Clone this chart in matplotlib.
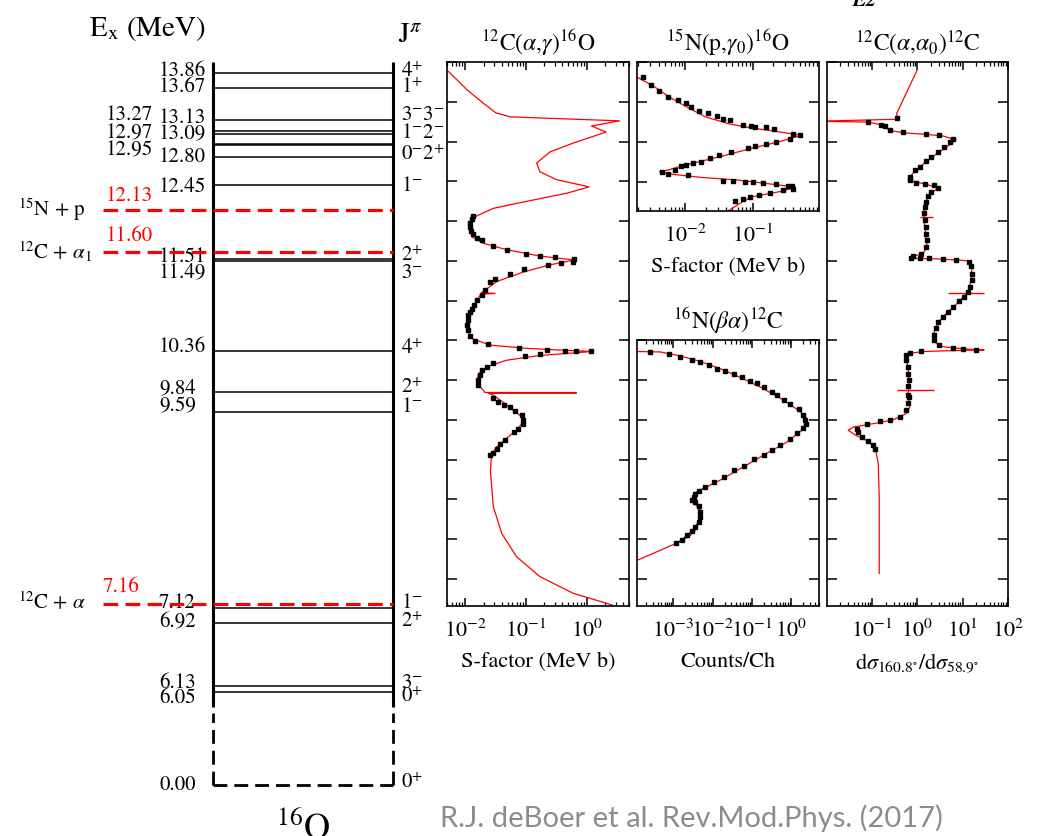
import numpy as np
import matplotlib
matplotlib.use('Agg')
import matplotlib.pyplot as plt
from matplotlib.ticker import MultipleLocator, LogLocator, NullFormatter

plt.rcParams['font.family'] = 'STIXGeneral'
plt.rcParams['mathtext.fontset'] = 'stix'

# --- 16O level scheme -------------------------------------------------------
level_E = [13.86, 13.67, 13.27, 13.13, 13.09, 12.97, 12.95, 12.80, 12.45,
           11.51, 11.49, 10.36, 9.84, 9.59, 7.12, 6.92, 6.13, 6.05]
ground_E = 0.00
jpi_labels = ['4$^{+}$', '1$^{+}$', '3$^{-}$3$^{-}$', '1$^{-}$2$^{-}$', '0$^{-}$2$^{+}$',
              '1$^{-}$', '2$^{+}$', '3$^{-}$', '4$^{+}$', '2$^{+}$', '1$^{-}$',
              '1$^{-}$', '2$^{+}$', '3$^{-}$', '0$^{+}$', '0$^{+}$']
thr_E = [12.13, 11.60, 7.16]
thr_names = [r'$^{15}$N + p', r'$^{12}$C + $\alpha_1$', r'$^{12}$C + $\alpha$']

# --- 12C(a,g)16O ------------------------------------------------------------
cag_fit_E = [13.88, 13.65, 13.48, 13.36, 13.31, 13.26, 13.195, 13.12, 12.98, 12.87,
             12.73, 12.62, 12.52, 12.43, 12.35, 12.24, 12.16, 12.05, 11.93, 11.80,
             11.72, 11.64, 11.56, 11.51, 11.45, 11.36, 11.24, 11.10, 11.09, 11.08,
             10.92, 10.75, 10.63, 10.52, 10.44, 10.40, 10.37, 10.36, 10.31, 10.25,
             10.17, 10.08, 9.96, 9.87, 9.845, 9.84, 9.835, 9.81, 9.69, 9.54,
             9.50, 9.37, 9.27, 9.16, 9.06, 8.85, 8.70, 8.41, 8.07, 7.78,
             7.53, 7.32, 7.17]
cag_fit_S = [0.0053, 0.0107, 0.020, 0.032, 0.055, 3.5, 1.2, 2.1, 0.60, 0.25,
             0.15, 0.17, 0.32, 1.1, 0.47, 0.091, 0.029, 0.014, 0.0113, 0.013,
             0.020, 0.048, 0.17, 0.63, 0.25, 0.091, 0.033, 0.0187, 0.031, 0.018,
             0.013, 0.011, 0.0107, 0.013, 0.026, 0.10, 0.60, 1.26, 0.17, 0.048,
             0.023, 0.0165, 0.0156, 0.020, 0.021, 0.68, 0.024, 0.029, 0.048, 0.085,
             0.096, 0.070, 0.048, 0.033, 0.027, 0.026, 0.027, 0.029, 0.040, 0.070,
             0.17, 0.60, 2.7]
cag_dat_E = [12.06, 12.02, 11.97, 11.92, 11.88, 11.84, 11.79, 11.76, 11.69, 11.64,
             11.59, 11.56, 11.55, 11.52, 11.49, 11.47, 11.45, 11.40, 11.34, 11.27,
             11.24, 11.13, 11.07, 11.01, 10.94, 10.90, 10.86, 10.82, 10.75, 10.69,
             10.63, 10.55, 10.49, 10.45, 10.40, 10.38, 10.37, 10.36, 10.36, 10.33,
             10.30, 10.21, 10.17, 10.13, 10.06, 10.00, 9.94, 9.77, 9.73, 9.69,
             9.66, 9.61, 9.56, 9.50, 9.45, 9.39, 9.35, 9.25, 9.20, 9.13,
             9.08, 9.06]
cag_dat_S = [0.0132, 0.0129, 0.0118, 0.0118, 0.0124, 0.0132, 0.0155, 0.0188, 0.029, 0.048,
             0.100, 0.17, 0.30, 0.63, 0.60, 0.38, 0.23, 0.093, 0.055, 0.031,
             0.026, 0.021, 0.019, 0.0155, 0.0137, 0.0129, 0.012, 0.0113, 0.0109, 0.0106,
             0.0109, 0.012, 0.0146, 0.024, 0.078, 0.22, 0.44, 0.68, 1.19, 0.17,
             0.096, 0.029, 0.023, 0.019, 0.0177, 0.0165, 0.0165, 0.029, 0.035, 0.043,
             0.055, 0.066, 0.085, 0.091, 0.089, 0.074, 0.063, 0.046, 0.038, 0.033,
             0.029, 0.026]

# --- 15N(p,g0)16O -----------------------------------------------------------
npg_fit_E = [13.82, 13.70, 13.56, 13.44, 13.31, 13.22, 13.17, 13.13, 13.08, 13.00,
             12.92, 12.81, 12.71, 12.65, 12.62, 12.59, 12.55, 12.52, 12.47, 12.43,
             12.38, 12.31, 12.25, 12.13]
npg_fit_S = [0.0018, 0.0033, 0.0058, 0.0102, 0.020, 0.046, 0.10, 0.22, 0.53, 0.25,
             0.10, 0.032, 0.0102, 0.0058, 0.0041, 0.0065, 0.018, 0.057, 0.18, 0.43,
             0.28, 0.10, 0.072, 0.043]
npg_dat_E = [13.81, 13.71, 13.63, 13.56, 13.52, 13.48, 13.44, 13.39, 13.36, 13.32,
             13.29, 13.27, 13.21, 13.20, 13.19, 13.18, 13.16, 13.10, 13.08, 13.03,
             13.00, 12.97, 12.95, 12.92, 12.87, 12.83, 12.79, 12.75, 12.73, 12.71,
             12.69, 12.65, 12.62, 12.59, 12.58, 12.51, 12.51, 12.49, 12.49, 12.48,
             12.47, 12.45, 12.44, 12.41, 12.39, 12.35, 12.33, 12.31, 12.28, 12.26]
npg_dat_S = [0.0023, 0.0031, 0.0041, 0.0055, 0.0077, 0.0102, 0.012, 0.016, 0.0215, 0.029,
             0.036, 0.046, 0.072, 0.095, 0.11, 0.16, 0.21, 0.40, 0.50, 0.36,
             0.22, 0.16, 0.11, 0.085, 0.048, 0.032, 0.023, 0.017, 0.0129, 0.0102,
             0.0086, 0.0069, 0.0044, 0.0055, 0.0108, 0.036, 0.051, 0.076, 0.10, 0.14,
             0.22, 0.34, 0.38, 0.40, 0.28, 0.18, 0.126, 0.091, 0.072, 0.054]

# --- 16N(beta alpha)12C -----------------------------------------------------
nba_fit_E = [10.355, 10.35, 10.30, 10.23, 10.14, 10.03, 9.91, 9.77, 9.63, 9.54,
             9.47, 9.37, 9.22, 9.08, 8.91, 8.74, 8.62, 8.55, 8.49, 8.41,
             8.32, 8.24, 8.11, 8.03, 7.97, 7.86, 7.74]
nba_fit_C = [1.3e-4, 4.7e-4, 0.0015, 0.0049, 0.0155, 0.050, 0.16, 0.52, 1.38, 2.3,
             2.5, 1.86, 0.78, 0.24, 0.062, 0.0155, 0.0049, 0.0033, 0.0030, 0.0040,
             0.0049, 0.0049, 0.0036, 0.0025, 0.0015, 4.7e-4, 1.3e-4]
nba_dat_E = [10.35, 10.32, 10.29, 10.25, 10.22, 10.19, 10.14, 10.11, 10.07, 10.03,
             9.99, 9.96, 9.91, 9.85, 9.81, 9.75, 9.70, 9.63, 9.56, 9.50,
             9.45, 9.40, 9.33, 9.26, 9.18, 9.12, 9.06, 9.00, 8.92, 8.87,
             8.78, 8.72, 8.66, 8.61, 8.57, 8.53, 8.49, 8.46, 8.41, 8.34,
             8.28, 8.22, 8.15, 8.10, 8.05, 7.99, 7.95]
nba_dat_C = [2.6e-4, 7.6e-4, 0.0015, 0.0030, 0.0049, 0.0079, 0.0129, 0.021, 0.034, 0.056,
             0.091, 0.135, 0.20, 0.32, 0.44, 0.65, 0.94, 1.55, 2.0, 2.2,
             2.3, 2.0, 1.38, 0.94, 0.52, 0.32, 0.20, 0.11, 0.062, 0.034,
             0.019, 0.0107, 0.0065, 0.0044, 0.0036, 0.0033, 0.0030, 0.0036, 0.0044, 0.0049,
             0.0047, 0.0044, 0.0036, 0.0030, 0.0022, 0.0017, 0.0012]

# --- 12C(a,a0)12C -----------------------------------------------------------
caa_fit_E = [13.90, 13.35, 13.28, 13.255, 13.245, 13.21, 13.14, 13.11, 13.09, 13.07,
             13.02, 12.93, 12.81, 12.68, 12.56, 12.52, 12.47, 12.42, 12.31, 12.18,
             12.01, 11.84, 11.68, 11.59, 11.55, 11.53, 11.525, 11.50, 11.43, 11.26,
             11.11, 10.99, 10.86, 10.73, 10.59, 10.48, 10.42, 10.39, 10.38, 10.37,
             10.36, 10.33, 10.29, 10.17, 9.96, 9.83, 9.66, 9.58, 9.50, 9.46,
             9.41, 9.37, 9.31, 9.24, 9.16, 8.95, 8.53, 7.57]
caa_fit_R = [1.0, 0.35, 0.38, 0.005, 0.083, 0.16, 0.25, 0.49, 1.59, 3.7,
             7.2, 4.4, 2.2, 1.13, 0.69, 0.63, 1.35, 2.9, 1.74, 1.45,
             1.41, 1.54, 1.65, 1.35, 0.74, 0.69, 2.6, 14, 16.2, 15.5,
             13.2, 8.5, 4.8, 2.9, 2.3, 2.4, 3.7, 12, 30, 5.2,
             1.35, 0.58, 0.54, 0.63, 0.66, 0.63, 0.68, 0.58, 0.29, 0.126,
             0.039, 0.030, 0.043, 0.076, 0.117, 0.138, 0.145, 0.145]
caa_dat_E = [13.30, 13.25, 13.21, 13.19, 13.15, 13.12, 13.09, 13.08, 13.03, 12.99,
             12.93, 12.87, 12.81, 12.75, 12.68, 12.64, 12.56, 12.52, 12.48, 12.47,
             12.45, 12.41, 12.36, 12.31, 12.24, 12.18, 12.10, 12.01, 11.93, 11.84,
             11.76, 11.68, 11.59, 11.56, 11.54, 11.53, 11.53, 11.52, 11.51, 11.49,
             11.43, 11.34, 11.26, 11.17, 11.11, 11.05, 10.99, 10.92, 10.86, 10.80,
             10.73, 10.65, 10.57, 10.50, 10.44, 10.40, 10.39, 10.38, 10.37, 10.34,
             10.31, 10.25, 10.17, 10.08, 10.00, 9.92, 9.81, 9.79, 9.71, 9.62,
             9.54, 9.50, 9.48, 9.45, 9.39, 9.35, 9.29, 9.24, 9.18, 9.14]
caa_dat_R = [0.36, 0.083, 0.16, 0.19, 0.25, 0.49, 1.59, 3.1, 6.1, 5.2,
             4.0, 2.9, 2.0, 1.59, 1.13, 0.89, 0.69, 0.69, 0.96, 1.45,
             2.4, 2.9, 2.0, 1.74, 1.59, 1.45, 1.41, 1.45, 1.54, 1.59,
             1.65, 1.59, 1.23, 0.81, 0.74, 1.13, 1.86, 3.7, 7.2, 14,
             15.5, 16.2, 16.2, 14.8, 13.2, 11, 8.5, 6.1, 4.8, 3.7,
             2.9, 2.6, 2.3, 2.4, 3.1, 6.1, 10.2, 20, 1.23, 0.69,
             0.56, 0.58, 0.63, 0.64, 0.65, 0.64, 0.63, 0.66, 0.63, 0.58,
             0.41, 0.25, 0.15, 0.076, 0.046, 0.050, 0.059, 0.083, 0.107, 0.12]
caa_bar_E = [12.05, 11.10, 9.87]
caa_bar_lo = [1.13, 4.8, 0.35]
caa_bar_hi = [2.2, 30, 2.4]

# --- layout -----------------------------------------------------------------
W, H = 1038, 836
PX = 79.3  # pixels per MeV


def ey(p):
    # pixel row -> energy on the shared vertical scale
    return 14.0 - (p - 62) / PX


def box(l, t, r, b):
    return [l / W, 1 - b / H, (r - l) / W, (b - t) / H]


fig = plt.figure(figsize=(W / 100, H / 100), dpi=100)

# level diagram
axL = fig.add_axes([0, 0, 440 / W, 1])
axL.set_xlim(0, 440)
axL.set_ylim(ey(H), ey(0))
axL.axis('off')
GROUND = ey(785)  # where the 0.00 level is drawn (broken axis)

axL.vlines([213, 393], ey(707), ey(62), colors='k', lw=2.2)
axL.vlines([213, 393], GROUND, ey(713), colors='k', lw=2, linestyles=(0, (5, 2.5)))
axL.hlines(GROUND, 213, 393, colors='k', lw=2, linestyles=(0, (5, 2.5)))
axL.hlines(level_E, 213, 393, colors='k', lw=1.1)
axL.hlines(thr_E, 103, 393, colors='red', lw=2.3, linestyles=(0, (4.6, 2.3)), zorder=4)

lab_x = [159, 159, 106, 159, 159, 106, 106, 159, 159, 159, 159, 159, 159, 159, 159, 159, 159, 159]
lab_y = [71, 87, 115, 118, 135, 134, 151, 157, 187, 257, 273, 347, 389, 407, 603, 623, 683, 698]
for e, x, y in zip(level_E, lab_x, lab_y):
    axL.text(x, ey(y), '%.2f' % e, fontsize=15, ha='left', va='center', zorder=3)
axL.text(159, GROUND, '%.2f' % ground_E, fontsize=15, ha='left', va='center')

jpi_y = [72, 88, 115, 133, 155, 186, 256, 273, 349, 388, 407, 603, 622, 683, 697, 783]
for t, y in zip(jpi_labels, jpi_y):
    axL.text(401, ey(y), t, fontsize=15, ha='left', va='center')

thr_name_y = [210, 252, 603]
thr_val_y = [196, 236, 587]
thr_val_x = [106, 106, 103]
for e, name, ny, vx, vy in zip(thr_E, thr_names, thr_name_y, thr_val_x, thr_val_y):
    axL.text(18, ey(ny), name, fontsize=15, ha='left', va='center')
    axL.text(vx, ey(vy), '%.2f' % e, fontsize=15, color='red', ha='left', va='center')

axL.text(147, ey(29), r'E$_{\rm x}$ (MeV)', fontsize=21, ha='center', va='center')
axL.text(398, ey(36), r'J$^{\pi}$', fontsize=21, ha='left', va='center')
axL.text(303, ey(838), r'$^{16}$O', fontsize=26, ha='center', va='baseline')


def style_panel(ax, xlim, ylim, title, xlabel):
    ax.set_xscale('log')
    ax.set_xlim(xlim)
    ax.set_ylim(ylim)
    ax.yaxis.set_major_locator(MultipleLocator(0.5))
    ax.xaxis.set_major_locator(LogLocator(base=10, numticks=20))
    ax.xaxis.set_minor_locator(LogLocator(base=10, subs=np.arange(2, 10), numticks=20))
    ax.xaxis.set_minor_formatter(NullFormatter())
    ax.tick_params(axis='y', which='both', direction='in', left=True, right=True,
                   labelleft=False, length=7, width=1.1)
    ax.tick_params(axis='x', which='major', direction='in', top=True, bottom=True,
                   length=6, width=1.1, labelsize=16, pad=10)
    ax.tick_params(axis='x', which='minor', direction='in', top=True, bottom=True,
                   length=3, width=0.9)
    for s in ax.spines.values():
        s.set_linewidth(1.2)
    ax.set_title(title, fontsize=17, pad=8)
    if xlabel:
        ax.set_xlabel(xlabel, fontsize=16, labelpad=7)


ax1 = fig.add_axes(box(447, 62, 629, 606))
ax1.plot(cag_fit_S, cag_fit_E, color='red', lw=0.9)
ax1.plot(cag_dat_S, cag_dat_E, 's', color='k', ms=2.5)
style_panel(ax1, (5e-3, 5), (7.16, 14.0), r'$^{12}$C($\alpha$,$\gamma$)$^{16}$O',
            'S-factor (MeV b)')

ax2 = fig.add_axes(box(637, 62, 819, 211))
ax2.plot(npg_fit_S, npg_fit_E, color='red', lw=0.9)
ax2.plot(npg_dat_S, npg_dat_E, 's', color='k', ms=2.5)
style_panel(ax2, (1.9e-3, 0.97), (12.13, 14.0), r'$^{15}$N(p,$\gamma_0$)$^{16}$O',
            'S-factor (MeV b)')

ax3 = fig.add_axes(box(637, 340, 819, 606))
ax3.plot(nba_fit_C, nba_fit_E, color='red', lw=0.9)
ax3.plot(nba_dat_C, nba_dat_E, 's', color='k', ms=2.2)
low = [i for i, e in enumerate(nba_dat_E) if e < 8.62]
ax3.plot([nba_dat_C[i] for i in low], [nba_dat_E[i] for i in low], color='k', lw=0.9)
style_panel(ax3, (1.2e-4, 5), (7.16, 10.5), r'$^{16}$N($\beta\alpha$)$^{12}$C', 'Counts/Ch')

ax4 = fig.add_axes(box(827, 62, 1008, 606))
ax4.plot(caa_fit_R, caa_fit_E, color='red', lw=0.9)
ax4.hlines(caa_bar_E, caa_bar_lo, caa_bar_hi, colors='red', lw=1.0)
ax4.plot(caa_dat_R, caa_dat_E, 's', color='k', ms=2.5)
style_panel(ax4, (0.0102, 101), (7.16, 14.0), r'$^{12}$C($\alpha$,$\alpha_0$)$^{12}$C',
            r'd$\sigma_{160.8^{\circ}}$/d$\sigma_{58.9^{\circ}}$')

fig.text(440 / W, 1 - 818 / H, 'R.J. deBoer et al. Rev.Mod.Phys. (2017)', fontsize=21,
         family='Lato', color='#8c8c8c', ha='left', va='center')
fig.text(853 / W, 1.0, 'E2', fontsize=15, fontstyle='italic', fontweight='bold',
         ha='left', va='center')

fig.savefig('out.png', dpi=100)
